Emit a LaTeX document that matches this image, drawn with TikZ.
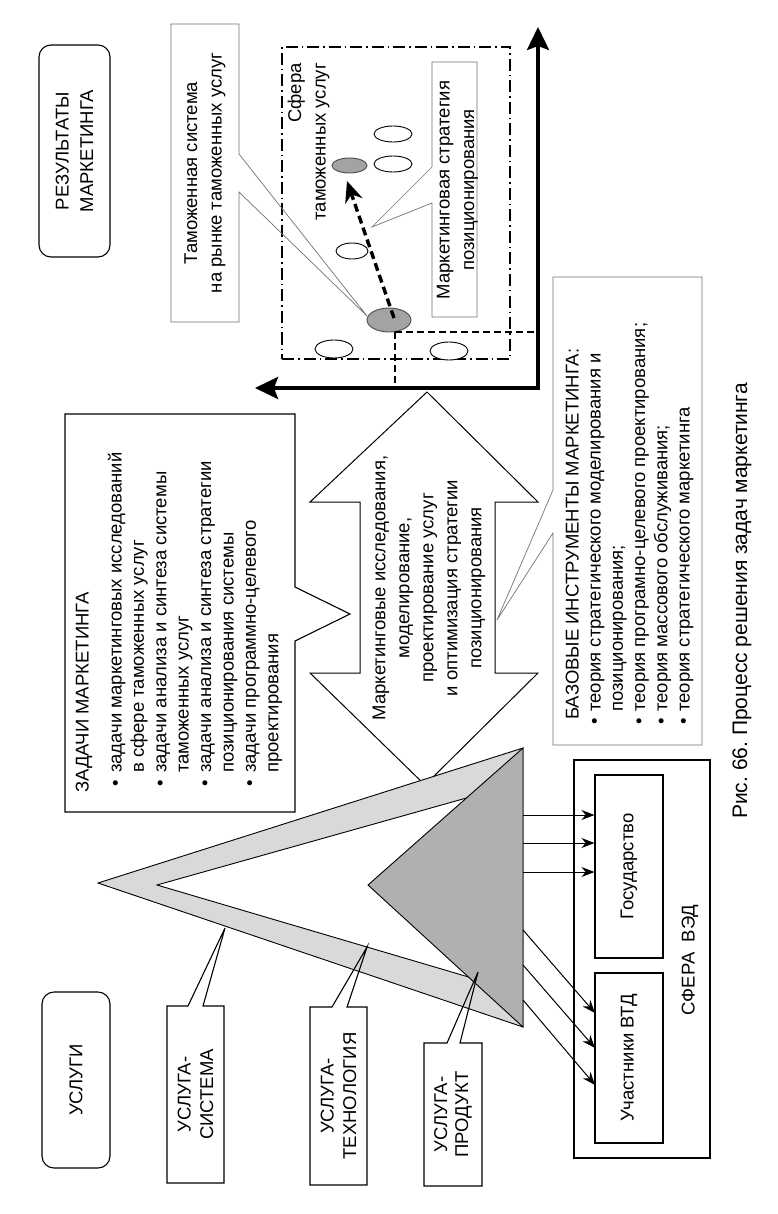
\documentclass[tikz,border=0pt]{standalone}
\usepackage{fontspec}
\setmainfont{Liberation Sans}
\usetikzlibrary{arrows.meta,shapes.geometric}
\frenchspacing
\newcommand\fs{\fontsize{18.5}{22.4}\selectfont}
\newcommand\fsb{\fontsize{18.5}{22.2}\selectfont}
\newcommand\fsc{\fontsize{18.5}{24.5}\selectfont}
\newcommand\bulA{\makebox[20pt][l]{\hspace{6pt}•}}
\newcommand\bulB{\makebox[14pt][l]{\hspace{1pt}•}}
\definecolor{bandc}{gray}{0.85}
\definecolor{darkc}{gray}{0.69}
\definecolor{ellc}{gray}{0.64}
\definecolor{thin}{gray}{0.45}
\begin{document}
\begin{tikzpicture}[x=1pt,y=-1pt,line join=miter,
  bx/.style={draw=black,line width=1.1pt},
  gbx/.style={draw=thin,line width=0.7pt},
  txt/.style={rotate=90,font=\fsc,align=center,inner sep=0pt},
  wel/.style={ellipse,draw=black,line width=0.9pt,fill=white,inner sep=0pt},
  gel/.style={ellipse,draw=black!70,line width=0.9pt,fill=ellc,inner sep=0pt},
  arr/.style={line width=1pt,-{Stealth[length=13pt,width=10pt]}},
  ddot/.style={line width=1.1pt,dash pattern=on 12pt off 4pt on 1.5pt off 4pt},
  dsh/.style={line width=1.1pt,dash pattern=on 7pt off 4pt}]
\useasboundingbox (0,0) rectangle (778,1214);
\fill[white] (0,0) rectangle (778,1214);

% results
\node[bx,rounded corners=12pt,rotate=90,minimum width=212pt,minimum height=71pt,font=\fsc,align=center] (rez) at (74.5,151) {РЕЗУЛЬТАТЫ\\МАРКЕТИНГА};

% sphere of customs services
\node[draw=black,ddot,minimum width=228pt,minimum height=312pt,inner sep=0pt] (sfR) at (396,203) {};
\node[rotate=90,font=\fsc,align=right,inner sep=0pt,anchor=east] (sfT) at (308.5,63) {Сфера\\таможенных услуг};

% callout: customs system
\draw[gbx] (171,24) -- (239,24) -- (239,154) -- (367,316) -- (239,192) -- (239,322) -- (171,322) -- cycle;
\node[txt] (tam) at (205,173) {Таможенная система\\на рынке таможенных услуг};

% ellipses
\node[wel,minimum width=38pt,minimum height=16pt] (w1) at (393,134) {};
\node[wel,minimum width=38pt,minimum height=16pt] (w2) at (393,164) {};
\node[wel,minimum width=32pt,minimum height=16pt] (w3) at (352,251) {};
\node[wel,minimum width=38pt,minimum height=18pt] (w4) at (334,349) {};
\node[wel,minimum width=38pt,minimum height=18pt] (w5) at (449,351) {};
\node[gel,minimum width=35pt,minimum height=15pt] (g2) at (349.5,165.5) {};
\node[gel,minimum width=44pt,minimum height=24pt] (g1) at (389,320) {};

% crosshair
\coordinate (gb) at (395,332);
\coordinate (O) at (538,388);
\draw[dsh] (gb) -- (gb |- O);
\draw[dsh] (gb) -- (gb -| O);

% axes
\coordinate (ax) at (255,388);
\coordinate (ay) at (538,27);
\draw[line width=3.8pt,{Stealth[length=23pt,width=22pt,inset=4pt]}-{Stealth[length=23pt,width=22pt,inset=4pt]}] (ax) -- (O) -- (ay);

% positioning arrow
\coordinate (gs) at (394,318);
\coordinate (gt) at (347,181);
\draw[line width=3.4pt,dash pattern=on 8pt off 4.5pt,-{Stealth[length=21pt,width=18pt]}] (gs) -- (gt);

% callout: strategy
\draw[gbx] (432,62) -- (477,62) -- (477,317) -- (432,317) -- (432,203) -- (372,227) -- (432,167) -- cycle;
\node[txt] (mark) at (457.5,190) {Маркетинговая стратегия\\позиционирования};

% big double arrow
\draw[line width=1pt,fill=white] (427,392) -- (538,502) -- (495,502) -- (495,673) -- (538,673) -- (425,785) -- (310,673) -- (360,673) -- (360,502) -- (310,502) -- cycle;
\node[rotate=90,font=\fontsize{18.5}{24}\selectfont,align=center,inner sep=0pt] (bigT) at (429,588) {Маркетинговые исследования,\\моделирование,\\проектирование услуг\\и оптимизация стратегии\\позиционирования};

% tasks callout
\draw[bx] (65,414) -- (295,414) -- (295,587) -- (350,614) -- (295,641) -- (295,812) -- (65,812) -- cycle;
\node[rotate=90,anchor=north west,inner sep=0pt,align=left,font=\fs] (zadT) at (75.4,793) {ЗАДАЧИ МАРКЕТИНГА\\[10.6pt]
\bulA задачи маркетинговых исследований\\
\hspace*{20pt}в сфере таможенных услуг\\
\bulA задачи анализа и синтеза системы\\
\hspace*{20pt}таможенных услуг\\
\bulA задачи анализа и синтеза стратегии\\
\hspace*{20pt}позиционирования системы\\
\bulA задачи программно-целевого\\
\hspace*{20pt}проектирования};

% base tools callout
\draw[gbx] (553,277) -- (702,277) -- (702,745) -- (553,745) -- (553,533) -- (497,620) -- (553,490) -- cycle;
\node[rotate=90,anchor=north west,inner sep=0pt,align=left,font=\fsb] (bazT) at (565.4,726) {\hspace*{6pt}БАЗОВЫЕ ИНСТРУМЕНТЫ МАРКЕТИНГА:\\
\bulB теория стратегического моделирования и\\
\hspace*{14pt}позиционирования;\\
\bulB теория програмно-целевого проектирования;\\
\bulB теория массового обслуживания;\\
\bulB теория стратегического маркетинга};

% triangles
\draw[line width=0.9pt,fill=bandc] (98,883) -- (523,748) -- (523,1027) -- cycle;
\draw[line width=0.9pt,fill=white] (157,885) -- (470,797) -- (472,978) -- cycle;
\draw[line width=0.9pt,fill=darkc] (368,885) -- (523,748) -- (523,1027) -- cycle;

% foreign trade sphere
\node[bx,rotate=90,minimum width=398pt,minimum height=136pt] (ved) at (642,959) {};
\node[rotate=90,font=\fsc,inner sep=0pt] (vedT) at (690,960) {СФЕРА\ \ ВЭД};
\node[bx,rotate=90,minimum width=183pt,minimum height=68pt,font=\fsc] (gos) at (629,866.5) {Государство};
\node[bx,rotate=90,minimum width=170pt,minimum height=68pt,font=\fsc] (uch) at (629,1058) {Участники ВТД};

% arrows from triangle
\coordinate (s1) at (523,815);
\coordinate (s2) at (523,843);
\coordinate (s3) at (523,872);
\coordinate (s4) at (523,930);
\coordinate (s5) at (523,965);
\coordinate (s6) at (523,1000);
\coordinate (e4) at (595,1013);
\coordinate (e5) at (595,1048);
\coordinate (e6) at (595,1085);
\draw[arr] (s1) -- (s1 -| gos.north);
\draw[arr] (s2) -- (s2 -| gos.north);
\draw[arr] (s3) -- (s3 -| gos.north);
\draw[arr] (s4) -- (e4);
\draw[arr] (s5) -- (e5);
\draw[arr] (s6) -- (e6);

% services
\node[bx,rounded corners=12pt,rotate=90,minimum width=176pt,minimum height=68pt,font=\fsc] (usl) at (76,1080) {УСЛУГИ};
\draw[bx] (167,1006) -- (188,1006) -- (225,928) -- (203,1006) -- (224,1006) -- (224,1183) -- (167,1183) -- cycle;
\node[txt,font=\fontsize{18.5}{22.5}\selectfont] (sis) at (195.5,1094.5) {УСЛУГА-\\СИСТЕМА};
\draw[bx] (310,1007) -- (332,1007) -- (367,947) -- (347,1007) -- (367,1007) -- (367,1185) -- (310,1185) -- cycle;
\node[txt,font=\fontsize{18.5}{22.5}\selectfont] (teh) at (338.5,1096) {УСЛУГА-\\ТЕХНОЛОГИЯ};
\draw[bx] (424,1043) -- (447,1043) -- (478,972) -- (460,1043) -- (482,1043) -- (482,1186) -- (424,1186) -- cycle;
\node[txt,font=\fontsize{18.5}{21}\selectfont] (pro) at (453,1114.5) {УСЛУГА-\\ПРОДУКТ};

% caption
\node[rotate=90,font=\fontsize{21}{25}\selectfont,inner sep=0pt] (cap) at (742,601) {Рис. 66. Процесс решения задач маркетинга};
\end{tikzpicture}
\end{document}
